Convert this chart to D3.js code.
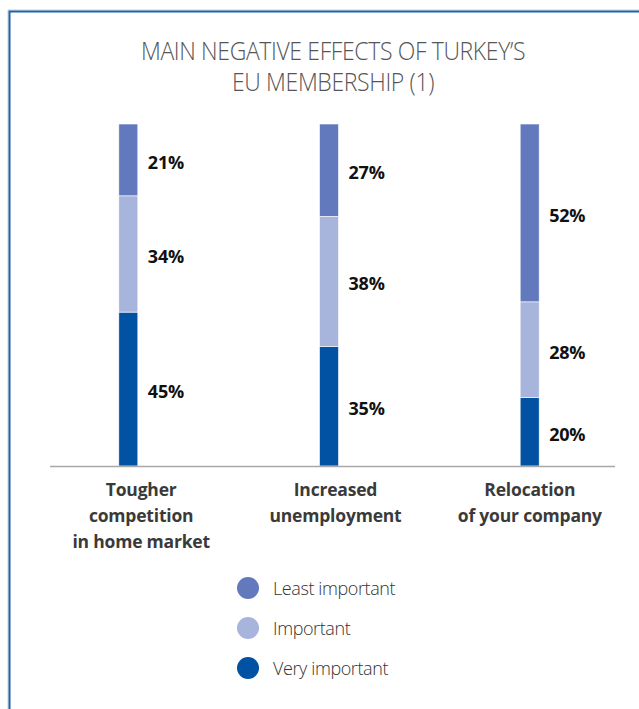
<!DOCTYPE html>
<html>
<head>
<meta charset="utf-8">
<script src="https://cdn.jsdelivr.net/npm/d3@7"></script>
<style>
  body { margin: 0; background: #fff; }
  svg { display: block; }
</style>
</head>
<body>
<svg id="chart"></svg>
<script>
const W = 639, H = 709;

// data
const categories = ["Tougher competition in home market", "Increased unemployment", "Relocation of your company"];
const categoryLines = [["Tougher", "competition", "in home market"], ["Increased", "unemployment"], ["Relocation", "of your company"]];
const series = ["Very important", "Important", "Least important"];
const veryImportant = [45, 35, 20];
const important = [34, 38, 28];
const leastImportant = [21, 27, 52];
const titleLines = ["MAIN NEGATIVE EFFECTS OF TURKEY\u2019S", "EU MEMBERSHIP (1)"];

const colors = { "Very important": "#0152a2", "Important": "#a7b4dc", "Least important": "#6379be" };

var svg = d3.select("#chart").attr("width", W).attr("height", H);

// frame
svg.append("path")
  .attr("d", "M8,709V10H639")
  .attr("fill", "none").attr("stroke", "#c9ced6").attr("stroke-width", 1);
svg.append("path")
  .attr("d", "M9.5,709V11.5H639")
  .attr("fill", "none").attr("stroke", "#1d64a8").attr("stroke-width", 2);

// title (narrowed to look like the condensed original)
svg.append("text")
  .attr("transform", "translate(333,60) scale(0.92,1)")
  .attr("text-anchor", "middle")
  .style("font-family", "'Open Sans', sans-serif")
  .style("font-weight", 300)
  .style("font-size", "25px")
  .attr("fill", "#555")
  .selectAll("tspan").data(titleLines).enter().append("tspan")
  .attr("x", 0).attr("dy", (d, i) => i ? 31 : 0)
  .style("letter-spacing", "-0.4px")
  .text(d => d);

var table = categories.map((c, i) => ({
  cat: c,
  "Very important": veryImportant[i],
  "Important": important[i],
  "Least important": leastImportant[i]
}));

var stacked = d3.stack().keys(series)(table);

var x = d3.scaleBand().domain(categories).range([28, 630]).padding(0);
// labels sit on a slightly narrower band than the bars
var xl = d3.scaleBand().domain(categories).range([44, 627]).padding(0);
var y = d3.scaleLinear().domain([0, 100]).range([466, 124]);
var barW = 19;
var cx = d => x(d) + x.bandwidth() / 2;

var g = svg.append("g");
stacked.forEach(function (layer) {
  g.selectAll(null).data(layer).enter().append("rect")
    .attr("x", d => cx(d.data.cat) - barW / 2)
    .attr("y", d => y(d[1]))
    .attr("width", barW)
    .attr("height", d => y(d[0]) - y(d[1]))
    .attr("fill", colors[layer.key])
    .attr("stroke", "#fff").attr("stroke-width", 0.6);

  g.selectAll(null).data(layer).enter().append("text")
    .attr("x", d => cx(d.data.cat) + barW / 2 + 10)
    .attr("y", d => (y(d[0]) + y(d[1])) / 2 + 9)
    .style("font-family", "'Open Sans', sans-serif")
    .style("font-weight", 700)
    .style("font-size", "18px")
    .style("letter-spacing", "-0.2px")
    .attr("fill", "#111")
    .text(d => (d[1] - d[0]) + "%");
});

// baseline
svg.append("line")
  .attr("x1", 50).attr("x2", 615)
  .attr("y1", y(0) + 0.5).attr("y2", y(0) + 0.5)
  .attr("stroke", "#a8a8a8").attr("stroke-width", 1.5);

// category labels
categories.forEach(function (c, i) {
  var lx = xl(c) + xl.bandwidth() / 2;
  svg.append("text")
    .attr("x", lx).attr("y", 496)
    .attr("text-anchor", "middle")
    .style("font-family", "'Open Sans', sans-serif")
    .style("font-weight", 700)
    .style("font-size", "17.5px")
    .attr("fill", "#3a3a3a")
    .selectAll("tspan").data(categoryLines[i]).enter().append("tspan")
    .attr("x", lx).attr("dy", (d, j) => j ? 26 : 0)
    .style("letter-spacing", "-0.2px")
    .text(d => d);
});

// legend
var legendOrder = ["Least important", "Important", "Very important"];
var leg = svg.append("g").selectAll("g").data(legendOrder).enter().append("g")
  .attr("transform", (d, i) => "translate(248," + (588 + i * 40) + ")");
leg.append("circle").attr("r", 11).attr("fill", d => colors[d]);
leg.append("text")
  .attr("x", 25).attr("y", 6.5)
  .style("font-family", "'Open Sans', sans-serif")
  .style("font-weight", 300)
  .style("font-size", "18px")
  .style("letter-spacing", "-0.4px")
  .attr("fill", "#333")
  .text(d => d);
</script>
</body>
</html>
